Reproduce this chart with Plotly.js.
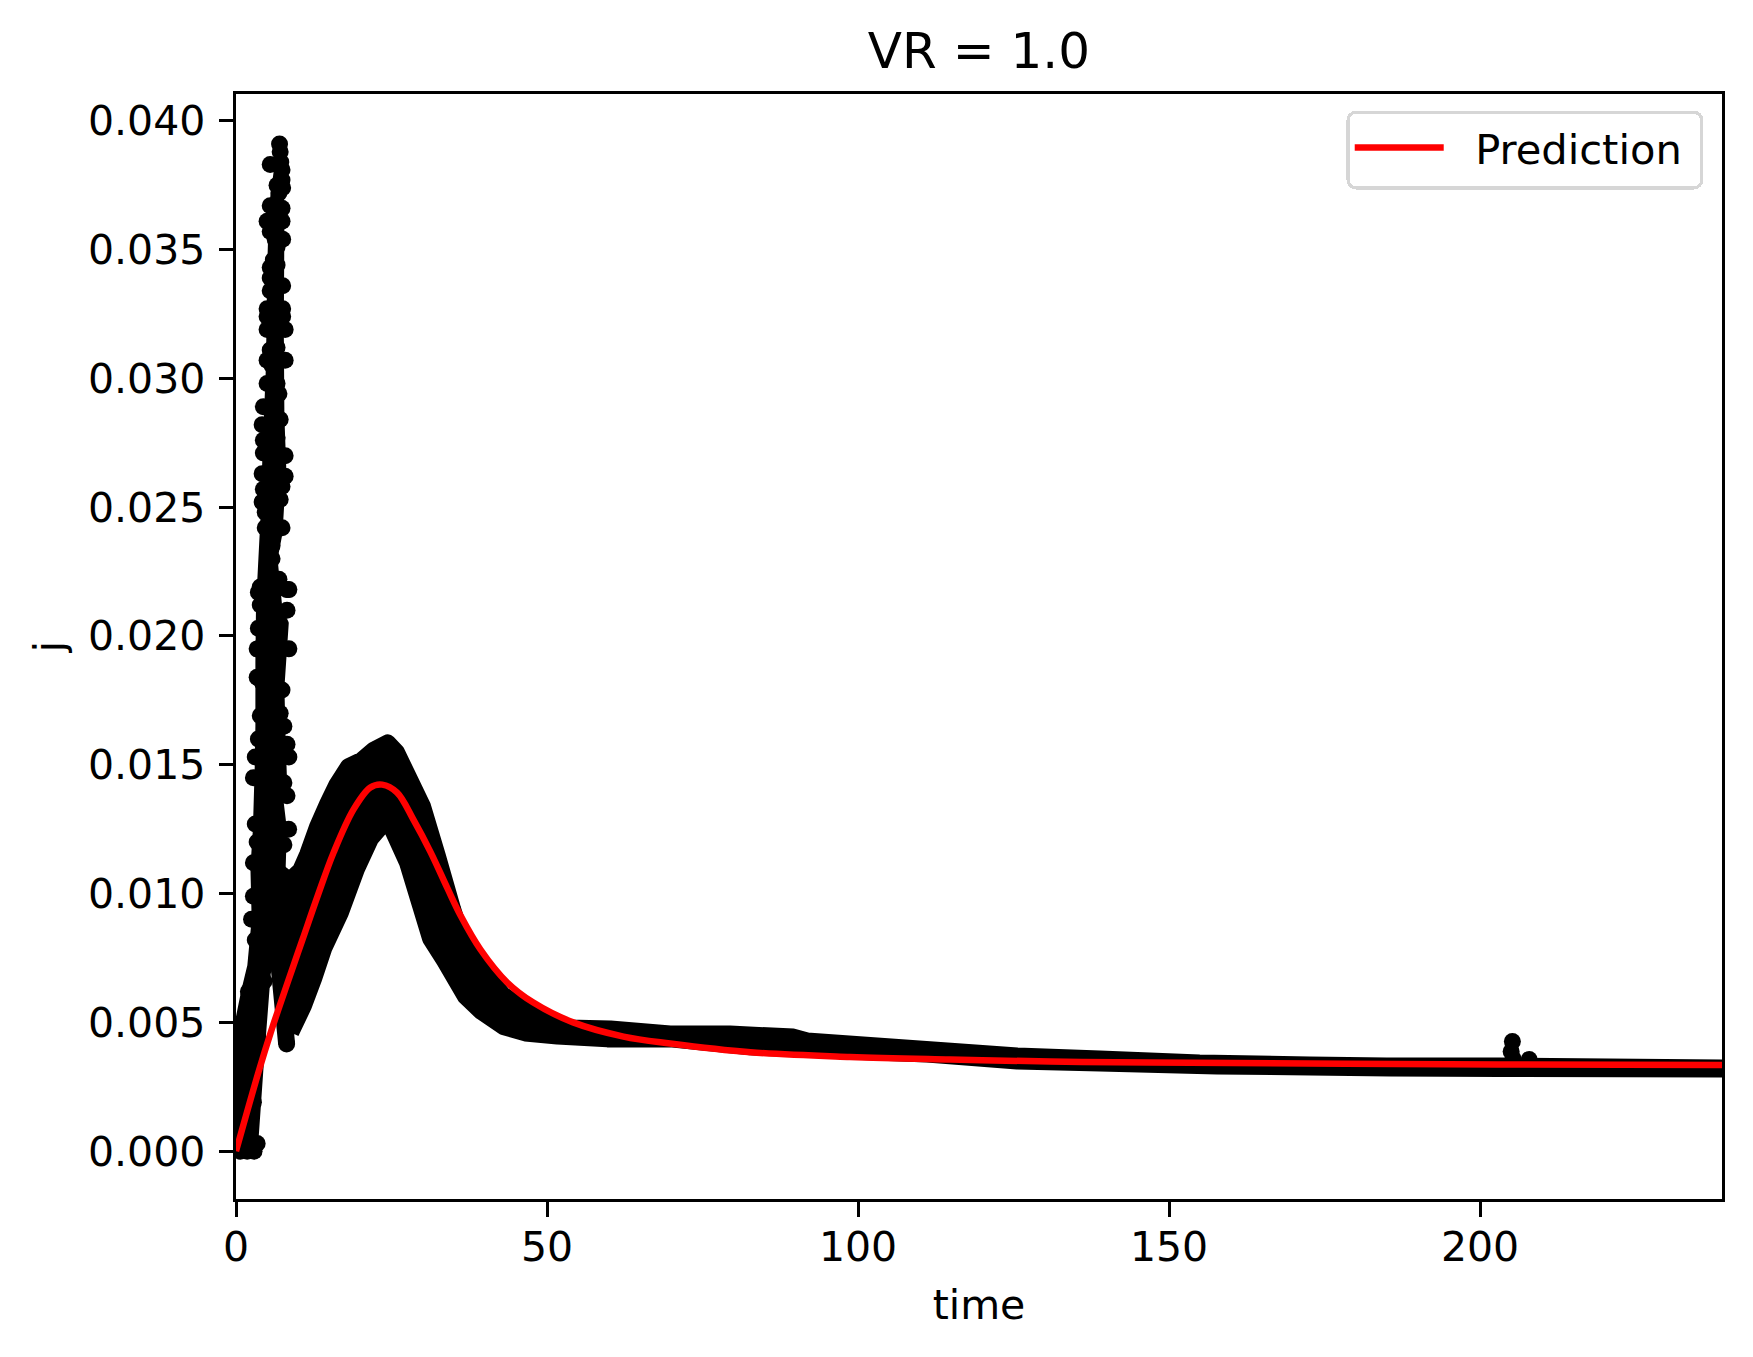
<!DOCTYPE html>
<html><head><meta charset="utf-8">
<script src="https://cdn.plot.ly/plotly-3.0.1.min.js"></script>
<style>html,body{margin:0;padding:0;background:#fff}
.js-line,.js-fill{stroke-linejoin:round !important}</style></head>
<body><div id="chart" style="width:1753px;height:1357px"></div>
<script>
const bandUpperT=[8.14,7.0,7.0,8.6,10.39,11.52,13.12,14.73,16.17,18.1,20.19,22.12,24.37,25.81,27.98,29.99,32.4,34.8,36.09,38.3,42.83,46.7,53.4,60.2,69.8,79.4,89.6,91.8,112.1,125.6,138.9,154.9,172.6,185,203.1,239];
const bandUpperJ=[0.00416,0.007,0.0108,0.0105,0.0109,0.01152,0.0126,0.01348,0.0142,0.01493,0.01517,0.01556,0.01585,0.01548,0.01439,0.01338,0.01144,0.00942,0.00845,0.00748,0.00608,0.00546,0.00478,0.00474,0.00455,0.00455,0.00443,0.00428,0.00393,0.0037,0.00358,0.00342,0.00335,0.00331,0.00331,0.00323];
const bandLowerT=[239,203.1,185.5,157.7,138.9,125.6,111.1,98.7,82.7,69.8,59.7,51.67,46.53,43,39.46,36.9,33.52,31.27,29.67,27.58,24.37,21.64,19.39,16.8,14.09,12.48,10.87,8.8];
const bandLowerJ=[0.00319,0.00321,0.00323,0.00331,0.00342,0.0035,0.00377,0.00389,0.00405,0.00436,0.00436,0.00447,0.00459,0.00484,0.00542,0.00601,0.0074,0.00826,0.00954,0.0112,0.01291,0.01214,0.01097,0.00927,0.00787,0.0067,0.00566,0.00461];
const coreT=[0.2,0.3,1.3,2.3,3,2.8,3.2,3.5,3.6,3.6,3.7,4.4,4.8,5.3,5.5,5.8,6.8,7.1,7.3,7.2,7.3,7.6,7,6.2,7,8,7.3,7.5,7.7,7.2,7.7,7.5,7.2,5.1,4.4,3.9,3.5,3];
const coreJ=[0,0.005,0.0062,0.0072,0.009,0.011,0.0125,0.015,0.0165,0.019,0.0212,0.0245,0.0275,0.0305,0.0343,0.0367,0.0385,0.0385,0.036,0.032,0.0285,0.0265,0.024,0.023,0.021,0.0205,0.018,0.016,0.0145,0.0135,0.0125,0.011,0.0085,0.0069,0.0047,0.0031,0.0017,0];
const spikeT=[7.0,7.1,7.2,5.5,7.4,7.4,6.6,7.5,6.9,5.5,7.4,5.0,7.4,5.5,7.5,6.3,6.6,6.0,5.5,6.6,5.5,7.5,5.5,6.3,5.0,7.5,5.0,7.5,5.0,7.9,6.0,5.5,6.6,7.9,5.0,5.8,5.0,6.6,6.9,4.4,6.0,7.1,4.2,5.5,6.6,4.4,4.4,7.9,6.0,4.2,7.9,6.0,7.4,4.4,7.1,4.2,4.7,7.4,4.7,5.8,5.8,6.9,3.9,8.2,
3.6,5.5,8.5,8.2,3.9,3.6,6.6,8.5,3.4,6.1,3.4,7.4,4.2,3.9,7.1,7.7,3.6,5.5,8.2,3.1,8.5,2.8,7.7,8.2,4.5,3.1,8.46,6.1,3.4,7.7,2.8,5.3,2.8,6.6,2.5,5.0,3.1,5.0,3.4,4.5,2.0,1.5,2.8,1.0,3.5,2.9,0.7,2.8,0.7,3.4,0.7,1.8,2.9,0.1,1.5,8.14];
const spikeJ=[0.0391,0.0388,0.0384,0.0383,0.0381,0.0377,0.0375,0.0374,0.0372,0.0367,0.0366,0.0361,0.0361,0.0357,0.0354,0.0354,0.0351,0.0346,0.0343,0.0344,0.0339,0.0336,0.0334,0.0335,0.0327,0.0327,0.0324,0.0324,0.0319,0.0319,0.0321,0.0311,0.0312,0.0307,0.0307,0.0305,0.0298,0.0298,0.0294,0.0289,0.0291,0.0284,0.0282,0.0282,0.0277,0.0276,0.0271,0.027,0.0271,0.0263,0.0262,0.0264,0.0258,0.0257,0.0253,0.0252,0.0248,0.0242,0.0242,0.0235,0.023,0.0222,0.0219,0.0218,
0.0217,0.0218,0.0218,0.021,0.0212,0.0203,0.0202,0.0195,0.0195,0.0189,0.0184,0.0179,0.0182,0.0169,0.017,0.0165,0.016,0.0161,0.0158,0.0153,0.0153,0.0145,0.0143,0.0138,0.0139,0.0127,0.0125,0.0128,0.012,0.0119,0.0112,0.0109,0.0099,0.0104,0.009,0.0095,0.0082,0.0079,0.0075,0.0066,0.0062,0.0052,0.0055,0.0041,0.0044,0.0032,0.0027,0.0019,0.0016,0.0003,0,0,0,0.002,0.0025,0.00416];
const blipT=[205.2,205,205.3,205.6,207.9];
const blipJ=[0.00426,0.00387,0.0036,0.0034,0.00356];
const predT=[0,3.65,5.57,8.3,10.7,13.1,15.7,18.9,21.6,23.5,25.9,28.5,31.3,34,36.1,39.3,43.6,47.8,54.2,62.3,69.8,82.7,98.7,114.8,130.9,146.9,203,239];
const predJ=[0,0.0031,0.0046,0.00655,0.00822,0.00989,0.0116,0.01327,0.01412,0.01423,0.01392,0.01288,0.0116,0.0102,0.00915,0.00783,0.00655,0.00577,0.005,0.00445,0.00418,0.00384,0.00366,0.00356,0.00348,0.00344,0.00337,0.00335];
const xTicks=[0,50,100,150,200];
const yTicks=[0,0.005,0.01,0.015,0.02,0.025,0.03,0.035,0.04];
const font='"DejaVu Sans", sans-serif';
const ax={showline:true,mirror:true,linecolor:'#000',linewidth:3,ticks:'outside',ticklen:14.5,tickwidth:3,tickcolor:'#000',showgrid:false,zeroline:false,tickfont:{family:font,size:41,color:'#000'}};
const traces=[
{x:bandUpperT.concat(bandLowerT),y:bandUpperJ.concat(bandLowerJ),mode:'lines',fill:'toself',fillcolor:'#000',line:{color:'#000',width:17,simplify:false},showlegend:false,hoverinfo:'skip'},
{x:coreT,y:coreJ,mode:'lines',fill:'toself',fillcolor:'#000',line:{color:'#000',width:6,simplify:false},showlegend:false,hoverinfo:'skip'},
{x:spikeT,y:spikeJ,mode:'markers',marker:{color:'#000',size:17},showlegend:false},
{x:blipT,y:blipJ,mode:'markers',marker:{color:'#000',size:17},showlegend:false},
{x:predT,y:predJ,mode:'lines',name:'\u00a0\u00a0Prediction\u00a0',line:{color:'#ff0000',width:6.5,shape:'spline',smoothing:1,simplify:false}}
];
const layout={width:1753,height:1357,margin:{l:235.5,r:31,t:94.4,b:157.5,pad:0},paper_bgcolor:'#fff',plot_bgcolor:'#fff',
title:{text:'VR = 1.0',font:{family:font,size:50,color:'#000'},x:0.5584,xanchor:'center',y:0.963,yanchor:'middle'},
xaxis:Object.assign({},ax,{range:[0,238.9],tickvals:xTicks,ticktext:xTicks.map(String),ticklabelstandoff:-5,title:{text:'time',font:{family:font,size:41,color:'#000'},standoff:21}}),
yaxis:Object.assign({},ax,{range:[-0.001856,0.04104],tickvals:yTicks,ticktext:yTicks.map(v=>v.toFixed(3)),ticklabelstandoff:5,title:{text:'j',font:{family:font,size:41,color:'#000'},standoff:12}}),
legend:{x:0.9875,xanchor:'right',y:0.985,yanchor:'top',bgcolor:'rgba(255,255,255,0.8)',bordercolor:'#d6d6d6',borderwidth:3.3,font:{family:font,size:41.6,color:'#000'},itemwidth:89}
};
Plotly.newPlot('chart',traces,layout,{displayModeBar:false,staticPlot:true}).then(()=>{
 document.querySelectorAll('.legend .bg').forEach(r=>{r.setAttribute('rx',8);r.setAttribute('ry',8);r.setAttribute('height',parseFloat(r.getAttribute('height'))+5);});
});
</script></body></html>
